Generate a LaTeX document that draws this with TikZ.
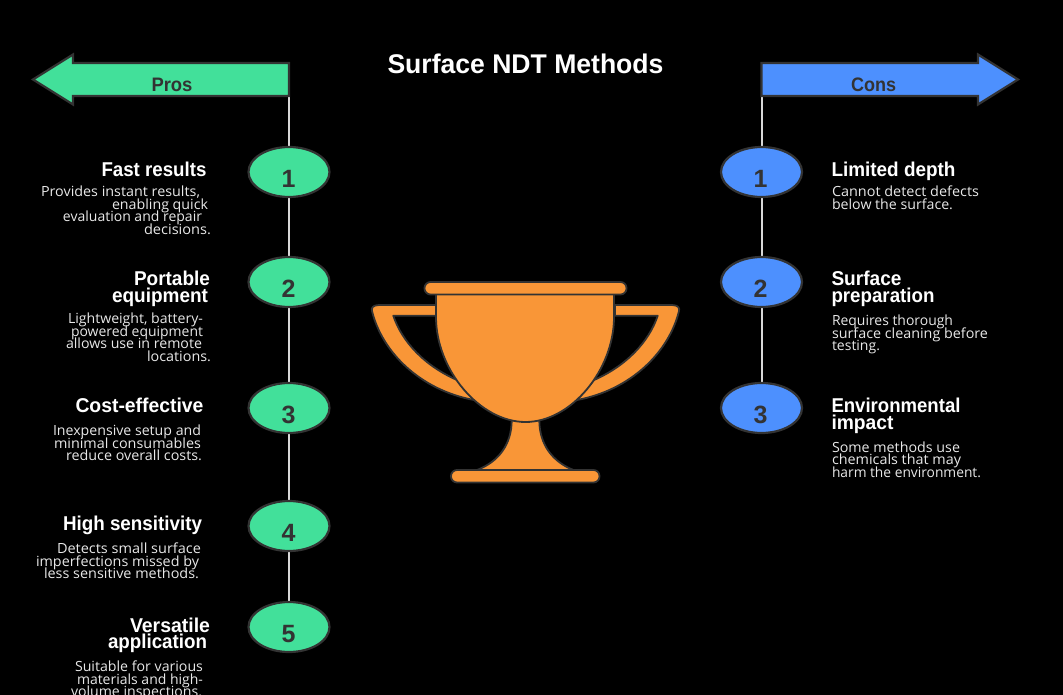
\documentclass[tikz,border=0pt]{standalone}
\usepackage{graphicx}
\usepackage{fontspec}
\setmainfont{Liberation Sans}
\newfontfamily\bodyf{Open Sans}
\usetikzlibrary{shapes.geometric,backgrounds}
\definecolor{pro}{HTML}{42E09A}
\definecolor{con}{HTML}{4D90FE}
\definecolor{cup}{HTML}{F99637}
\definecolor{ink}{HTML}{333333}
\definecolor{lin}{HTML}{D8D8D8}
\definecolor{soft}{HTML}{E8E8E8}
\newcommand\myhd{\fontsize{20}{20}\bfseries\selectfont}
\newcommand\mybd{\fontsize{14}{14}\bodyf\color{soft}\selectfont}
\newcommand\myfl{\fontsize{19.5}{20}\bfseries\selectfont}
\newcommand\wbox[2]{\resizebox{#1pt}{\height}{#2}}
\tikzset{
  txt/.style={anchor=base west,inner sep=0pt,outer sep=0pt,text=white},
  num/.style={anchor=base,inner sep=0pt,text=ink,font=\fontsize{25}{25}\bfseries\selectfont},
  bub/.style={ellipse,draw=ink,line width=2.2pt,minimum width=81pt,minimum height=50pt,inner sep=0pt,outer sep=0pt},
  flagp/.style={draw=ink,line width=2.2pt,line join=miter},
  stem/.style={draw=lin,line width=2pt},
  cupp/.style={fill=cup,draw=ink,line width=1.8pt,line join=round},
}
\begin{document}
\begin{tikzpicture}[x=1pt,y=-1pt]
\useasboundingbox (0,0) rectangle (1063,695);
\clip (0,0) rectangle (1063,695);
% flags
\draw[flagp,fill=pro] (289,63) -- (73,63) -- (73,54.5) -- (33,79.5) -- (73,104.5) -- (73,96) -- (289,96) -- cycle;
\draw[flagp,fill=con] (761.5,63) -- (978,63) -- (978,54.5) -- (1018,79.5) -- (978,104.5) -- (978,96) -- (761.5,96) -- cycle;
\node[txt,text=ink] (tp) at (151.5,92) {\wbox{41}{\myfl Pros}};
\node[txt,text=ink] (tc) at (851,92) {\wbox{45}{\myfl Cons}};
\node[txt] (title) at (387.5,74) {\wbox{276}{\fontsize{27}{28}\bfseries\selectfont Surface NDT Methods}};
% bubbles
\node[bub,fill=pro] (p1) at (289,172) {};
\node[bub,fill=pro] (p2) at (289,282) {};
\node[bub,fill=pro] (p3) at (289,408) {};
\node[bub,fill=pro] (p4) at (289,526) {};
\node[bub,fill=pro] (p5) at (289,627) {};
\node[bub,fill=con] (c1) at (761.5,172) {};
\node[bub,fill=con] (c2) at (761.5,282) {};
\node[bub,fill=con] (c3) at (761.5,408) {};
\node[num] (np1) at (288.5,187.5) {1};
\node[num] (np2) at (288.5,297.5) {2};
\node[num] (np3) at (288.5,423.5) {3};
\node[num] (np4) at (288.5,541.5) {4};
\node[num] (np5) at (288.5,642.5) {5};
\node[num] (nc1) at (760.5,187.5) {1};
\node[num] (nc2) at (760.5,297.5) {2};
\node[num] (nc3) at (760.5,423.5) {3};
\begin{pgfonlayer}{background}
\fill[black] (0,0) rectangle (1063,695);
\coordinate (sp) at (289,96);
\coordinate (sc) at (761.5,96);
\draw[stem] (sp) -- (p1) -- (p2) -- (p3) -- (p4) -- (p5);
\draw[stem] (sc) -- (c1) -- (c2) -- (c3);
\end{pgfonlayer}
% left texts
\node[txt] (l01) at (101.5,176.5) {\wbox{105}{\myhd Fast results}};
\node[txt] (l02) at (41,197) {\wbox{159}{\mybd Provides instant results,}};
\node[txt] (l03) at (112,209.5) {\wbox{96}{\mybd enabling quick}};
\node[txt] (l04) at (63,222) {\wbox{139}{\mybd evaluation and repair}};
\node[txt] (l05) at (144,234.5) {\wbox{67}{\mybd decisions.}};
\node[txt] (l06) at (134,285.5) {\wbox{76}{\myhd Portable}};
\node[txt] (l07) at (112,302.5) {\wbox{96}{\myhd equipment}};
\node[txt] (l08) at (68,323.5) {\wbox{135}{\mybd Lightweight, battery-}};
\node[txt] (l09) at (71,336) {\wbox{132}{\mybd powered equipment}};
\node[txt] (l10) at (66,348.5) {\wbox{136}{\mybd allows use in remote}};
\node[txt] (l11) at (147,361) {\wbox{64}{\mybd locations.}};
\node[txt] (l12) at (75.5,412.5) {\wbox{128}{\myhd Cost-effective}};
\node[txt] (l13) at (53,435.5) {\wbox{148}{\mybd Inexpensive setup and}};
\node[txt] (l14) at (54,448) {\wbox{147}{\mybd minimal consumables}};
\node[txt] (l15) at (66,460.5) {\wbox{136}{\mybd reduce overall costs.}};
\node[txt] (l16) at (63,530.5) {\wbox{139}{\myhd High sensitivity}};
\node[txt] (l17) at (57,553.5) {\wbox{144}{\mybd Detects small surface}};
\node[txt] (l18) at (36,566) {\wbox{163}{\mybd imperfections missed by}};
\node[txt] (l19) at (44,578.5) {\wbox{155}{\mybd less sensitive methods.}};
\node[txt] (l20) at (130,632) {\wbox{80}{\myhd Versatile}};
\node[txt] (l21) at (108,648.5) {\wbox{99}{\myhd application}};
\node[txt] (l22) at (75,671.5) {\wbox{128}{\mybd Suitable for various}};
\node[txt] (l23) at (77,684) {\wbox{126}{\mybd materials and high-}};
\node[txt] (l24) at (71,696.5) {\wbox{131}{\mybd volume inspections.}};
% right texts
\node[txt] (r01) at (831.5,176.5) {\wbox{124}{\myhd Limited depth}};
\node[txt] (r02) at (832,197) {\wbox{147}{\mybd Cannot detect defects}};
\node[txt] (r03) at (832,209.5) {\wbox{121}{\mybd below the surface.}};
\node[txt] (r04) at (831.5,285.5) {\wbox{70}{\myhd Surface}};
\node[txt] (r05) at (831.5,302.5) {\wbox{103}{\myhd preparation}};
\node[txt] (r06) at (832,325.5) {\wbox{121}{\mybd Requires thorough}};
\node[txt] (r07) at (832,338) {\wbox{156}{\mybd surface cleaning before}};
\node[txt] (r08) at (832,350.5) {\wbox{48}{\mybd testing.}};
\node[txt] (r09) at (831.5,412.5) {\wbox{129}{\myhd Environmental}};
\node[txt] (r10) at (831.5,429) {\wbox{62}{\myhd impact}};
\node[txt] (r11) at (832,452) {\wbox{128}{\mybd Some methods use}};
\node[txt] (r12) at (832,464.5) {\wbox{129}{\mybd chemicals that may}};
\node[txt] (r13) at (832,477) {\wbox{149}{\mybd harm the environment.}};
% trophy
\draw[cupp] (436,305) -- (379,305) .. controls (373,305) and (371,308) .. (372,311)
  .. controls (382,352) and (420,390) .. (474,400) -- (457,380)
  .. controls (425,366) and (402,342) .. (393.3,315.7) -- (436,315.7) -- cycle;
\draw[cupp] (615,305) -- (672,305) .. controls (678,305) and (680,308) .. (679,311)
  .. controls (669,352) and (631,390) .. (577,400) -- (594,380)
  .. controls (626,366) and (649,342) .. (657.7,315.7) -- (615,315.7) -- cycle;
\draw[cupp] (511.7,420) .. controls (511.7,445) and (498,462) .. (477,470) -- (573.5,470)
  .. controls (553,462) and (539.3,445) .. (539.3,420) -- cycle;
\draw[cupp] (436,294) -- (436,317) .. controls (436,370) and (480,422) .. (525.5,422)
  .. controls (571,422) and (614,370) .. (614,317) -- (614,294) -- cycle;
\draw[cupp,rounded corners=6pt] (424.5,282) rectangle (626.5,294.5);
\draw[cupp,rounded corners=6pt] (451,470) rectangle (599.5,482.5);
\end{tikzpicture}
\end{document}
